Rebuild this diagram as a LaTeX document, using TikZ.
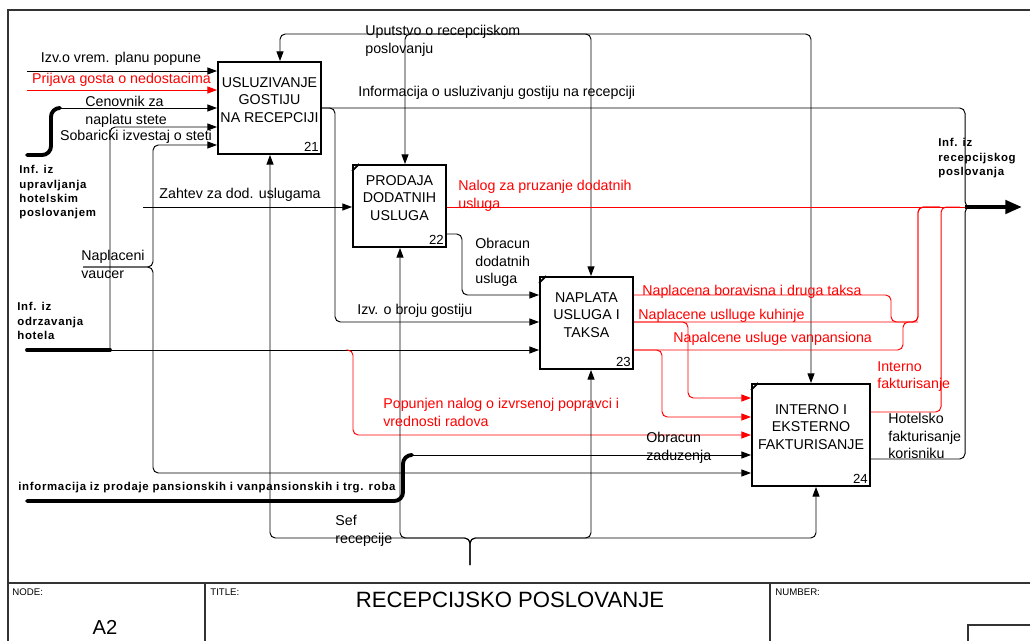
\documentclass[tikz,border=0pt]{standalone}
\usepackage{fontspec}
\setmainfont{Liberation Sans}
\usetikzlibrary{arrows.meta}

\tikzset{
    lbl/.style={inner sep=0pt, align=left, font=\fontsize{8.1}{10}\selectfont},
    redlbl/.style={lbl, text=red},
    boldlbl/.style={inner sep=0pt, align=left,
        font=\fontsize{6.5}{8.2}\selectfont\bfseries\addfontfeature{LetterSpace=6}},
    func/.style={draw, line width=1.1pt, inner sep=0pt},
    functext/.style={align=center, inner sep=0pt, font=\fontsize{8.1}{9.8}\selectfont},
    num/.style={anchor=south east, inner sep=1.6pt, font=\fontsize{7.5}{9}\selectfont},
    corner/.style={line width=1pt},
    flow/.style={line width=0.55pt, rounded corners=3pt},
    arr/.style={flow, -{Triangle[length=5.5pt,width=4pt]}},
    thickline/.style={line width=2.2pt, rounded corners=5pt, line cap=round},
    frame/.style={line width=0.6pt, black!80},
    formtxt/.style={inner sep=0pt, font=\fontsize{5.5}{6}\selectfont},
}

\begin{document}
\begin{tikzpicture}[x=0.02cm, y=-0.02cm]
    \useasboundingbox (0,0) rectangle (1030,641);

    \draw[frame] (8,641) -- (8,10) -- (1030,10);
    \draw[frame] (8,583) -- (1030,583);
    \draw[frame] (205,583) -- (205,641);
    \draw[frame] (770,583) -- (770,641);
    \draw[frame] (968,641) -- (968,625) -- (1030,625);
    \node[formtxt, anchor=north west] (fNode) at (12,588) {NODE:};
    \node[inner sep=0pt, font=\fontsize{11.5}{12}\selectfont] (fA2) at (105,627) {A2};
    \node[formtxt, anchor=north west] (fTitle) at (210,588) {TITLE:};
    \node[inner sep=0pt, font=\fontsize{12.6}{13}\selectfont] (fTitleText) at (510,600) {RECEPCIJSKO POSLOVANJE};
    \node[formtxt, anchor=north west] (fNumber) at (775,588) {NUMBER:};

    \node[func, minimum width=2.06cm, minimum height=1.84cm] (b21) at (269.5,108) {};
    \node[func, minimum width=1.86cm, minimum height=1.64cm] (b22) at (399.5,206) {};
    \node[func, minimum width=1.86cm, minimum height=1.84cm] (b23) at (586.5,323) {};
    \node[func, minimum width=2.36cm, minimum height=2.04cm] (b24) at (811,435) {};
    \node[functext] (t21) at ([yshift=1.6mm]b21.center) {USLUZIVANJE\\GOSTIJU\\NA RECEPCIJI};
    \node[functext] (t22) at ([yshift=1.6mm]b22.center) {PRODAJA\\DODATNIH\\USLUGA};
    \node[functext] (t23) at ([yshift=1.6mm]b23.center) {NAPLATA\\USLUGA I\\TAKSA};
    \node[functext] (t24) at ([yshift=1.6mm]b24.center) {INTERNO I\\EKSTERNO\\FAKTURISANJE};
    \node[num] (n21) at (b21.south east) {21};
    \node[num] (n22) at (b22.south east) {22};
    \node[num] (n23) at (b23.south east) {23};
    \node[num] (n24) at (b24.south east) {24};
    \draw[corner] ([yshift=-1.4mm]b22.north west) -- ([xshift=1.4mm]b22.north west);
    \draw[corner] ([yshift=-1.4mm]b23.north west) -- ([xshift=1.4mm]b23.north west);
    \draw[corner] ([yshift=-1.4mm]b24.north west) -- ([xshift=1.4mm]b24.north west);

    \coordinate (inPlan) at (27,71);
    \coordinate (inPrijava) at (27,90);
    \coordinate (inUprav) at (27,155);
    \coordinate (inOdrz) at (27,350);
    \coordinate (inProdaja) at (27,501);
    \coordinate (inVaucer) at (83,267);
    \coordinate (inZahtev) at (143,207);
    \coordinate (ctrlUput) at (500,34);
    \coordinate (mechSef) at (470,565);
    \coordinate (outJoin) at (965,207);
    \coordinate (outInf) at (1022,207);

    \draw[arr] (inPlan) -- (inPlan -| b21.west);
    \draw[arr, red] (inPrijava) -- (inPrijava -| b21.west);
    \draw[thickline] (inUprav) -- (51,155) -- (51,108) -- (60,108);
    \draw[arr] (58,108) -- (b21.west |- 0,108);
    \draw[thickline] (inOdrz) -- (110,350);
    \draw[arr] (110,350) -- (110,127) -- (b21.west |- 0,127);
    \draw[arr] (110,350) -- (b23.west |- 0,350);
    \draw[arr] (inVaucer) -- (153,267) -- (153,145) -- (b21.west |- 0,145);
    \draw[arr] (inVaucer) -- (153,267) -- (153,473) -- (b24.west |- 0,473);
    \draw[arr] (inZahtev) -- (inZahtev -| b22.west);
    \draw[thickline] (inProdaja) -- (403,501) -- (403,455) -- (412,455);
    \draw[arr] (410,455) -- (b24.west |- 0,455);
    \draw[arr, red] (346,350) -- (353,350) -- (353,435) -- (b24.west |- 0,435);

    \draw[arr] (ctrlUput) -- (280,34) -- (b21.north -| 280,0);
    \draw[arr] (ctrlUput) -- (405,34) -- (b22.north -| 405,0);
    \draw[arr] (ctrlUput) -- (591,34) -- (b23.north -| 591,0);
    \draw[arr] (ctrlUput) -- (811,34) -- (b24.north -| 811,0);

    \draw[arr] (mechSef) -- (470,538) -- (270,538) -- (b21.south -| 270,0);
    \draw[arr] (mechSef) -- (470,538) -- (400,538) -- (b22.south -| 400,0);
    \draw[arr] (mechSef) -- (470,538) -- (591,538) -- (b23.south -| 591,0);
    \draw[arr] (mechSef) -- (470,538) -- (816,538) -- (b24.south -| 816,0);

    \draw[flow] (b21.east |- 0,108) -- (965,108) -- (965,207) -- (980,207);
    \draw[arr] (b21.east |- 0,108) -- (335,108) -- (335,322) -- (b23.west |- 0,322);
    \draw[flow, red] (b22.east |- 0,207) -- (outJoin);
    \draw[arr] (b22.east |- 0,234) -- (462,234) -- (462,295) -- (b23.west |- 0,295);

    \draw[flow, red] (b23.east |- 0,295) -- (891,295) -- (891,322) -- (918,322) -- (918,207) -- (940,207);
    \draw[flow, red] (b23.east |- 0,322) -- (918,322) -- (918,207) -- (940,207);
    \draw[flow, red] (b23.east |- 0,350) -- (903,350) -- (903,322) -- (918,322);
    \draw[arr, red] (b23.east |- 0,322) -- (688,322) -- (688,398) -- (b24.west |- 0,398);
    \draw[arr, red] (b23.east |- 0,350) -- (662,350) -- (662,417) -- (b24.west |- 0,417);

    \draw[flow, red] (b24.east |- 0,412) -- (941,412) -- (941,207) -- (960,207);
    \draw[flow] (b24.east |- 0,459) -- (965,459) -- (965,207) -- (980,207);
    \draw[line width=2.3pt, -{Triangle[length=9.5pt,width=7.5pt]}] (outJoin) -- (outInf);

    \node[lbl, anchor=north] (lPlan) at (121,52) {Izv.o vrem. planu popune};
    \node[redlbl, anchor=north] (lPrijava) at (121.5,73) {Prijava gosta o nedostacima};
    \node[lbl, anchor=north west] (lCenovnik) at (85,96) {Cenovnik za\\naplatu stete};
    \node[lbl, anchor=north] (lSobar) at (136,130) {Sobaricki izvestaj o steti};
    \node[boldlbl, anchor=north west] (lUprav) at (19,165) {Inf. iz\\upravljanja\\hotelskim\\poslovanjem};
    \node[lbl, anchor=north] (lZahtev) at (240,188) {Zahtev za dod. uslugama};
    \node[lbl, anchor=north west] (lVaucer) at (81,250) {Naplaceni\\vaucer};
    \node[boldlbl, anchor=north west] (lOdrz) at (17,302) {Inf. iz\\odrzavanja\\hotela};
    \node[lbl, anchor=north west] (lUput) at (365,25) {Uputstvo o recepcijskom\\poslovanju};
    \node[lbl, anchor=north west] (lInfo) at (358,86) {Informacija o usluzivanju gostiju na recepciji};
    \node[redlbl, anchor=north west] (lNalog) at (458,180) {Nalog za pruzanje dodatnih\\usluga};
    \node[lbl, anchor=north west] (lObrDod) at (475,238) {Obracun\\dodatnih\\usluga};
    \node[lbl, anchor=north west] (lBroj) at (357,304) {Izv. o broju gostiju};
    \node[redlbl, anchor=north west] (lTaksa) at (642,285) {Naplacena boravisna i druga taksa};
    \node[redlbl, anchor=north west] (lKuhinja) at (638,309) {Naplacene uslluge kuhinje};
    \node[redlbl, anchor=north west] (lVanp) at (673,332) {Napalcene usluge vanpansiona};
    \node[redlbl, anchor=north west] (lInterno) at (877,361) {Interno\\fakturisanje};
    \node[lbl, anchor=north west] (lHotelsko) at (888,413) {Hotelsko\\fakturisanje\\korisniku};
    \node[lbl, anchor=north west] (lZaduz) at (646,432) {Obracun\\zaduzenja};
    \node[redlbl, anchor=north west] (lPopunjen) at (383,398) {Popunjen nalog o izvrsenoj popravci i\\vrednosti radova};
    \node[boldlbl, anchor=north west] (lProdaja) at (18,482) {informacija iz prodaje pansionskih i vanpansionskih i trg. roba};
    \node[lbl, anchor=north west] (lSef) at (335,515) {Sef\\recepcije};
    \node[boldlbl, anchor=north west] (lOut) at (938,138) {Inf. iz\\recepcijskog\\poslovanja};
\end{tikzpicture}
\end{document}
